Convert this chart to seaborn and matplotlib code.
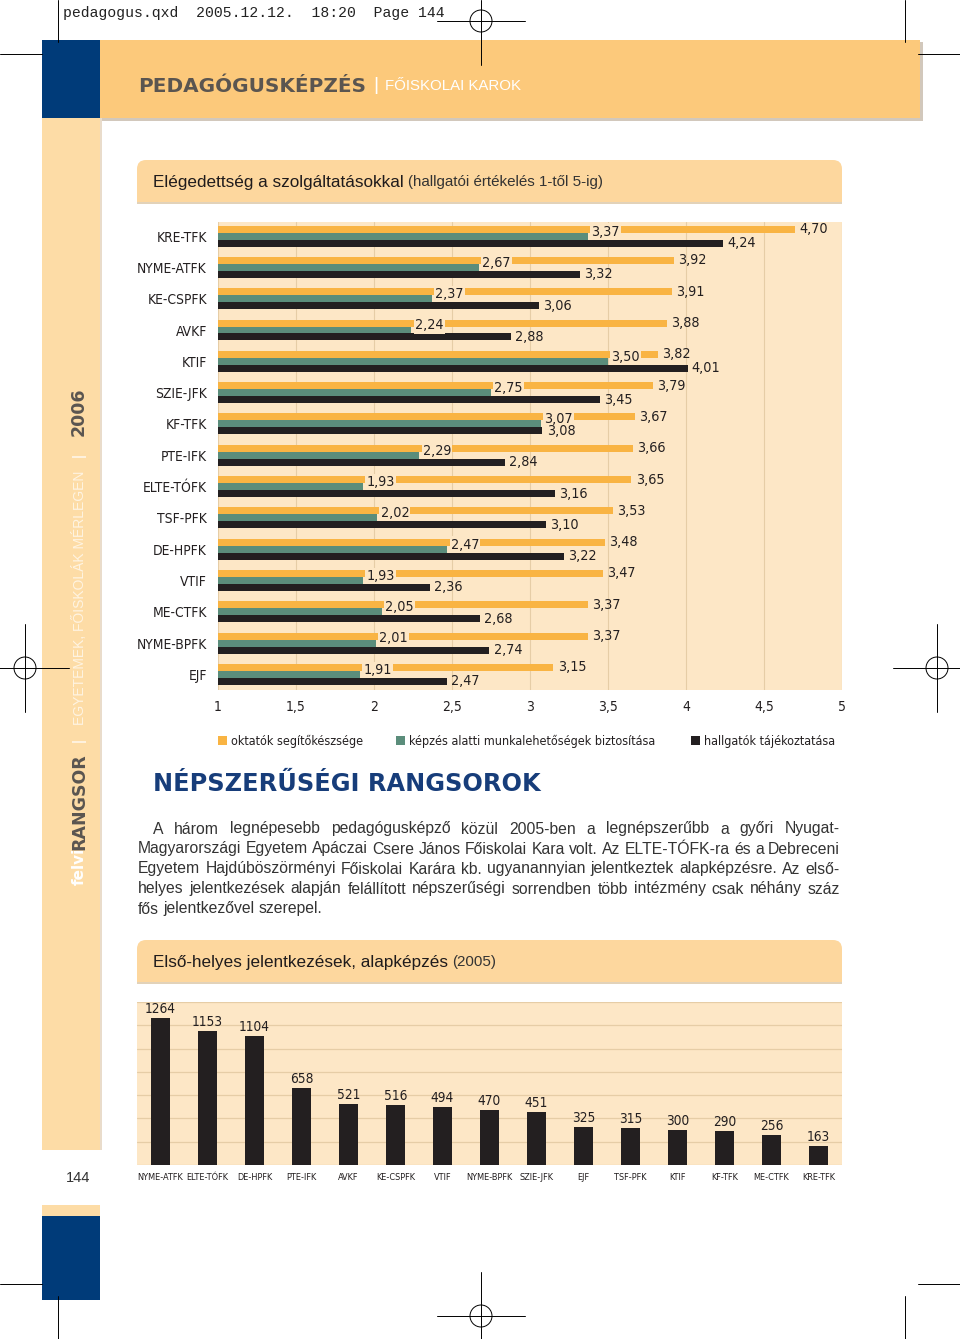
import os
import numpy as np
import pandas as pd
import matplotlib
matplotlib.use('Agg')
import matplotlib.pyplot as plt
import seaborn as sns
from matplotlib import font_manager as fm
from matplotlib.patches import Rectangle, FancyBboxPatch, Circle

# adatok - elegedettseg (1-5)
karok = ['KRE-TFK', 'NYME-ATFK', 'KE-CSPFK', 'AVKF', 'KTIF', 'SZIE-JFK', 'KF-TFK',
         'PTE-IFK', 'ELTE-TÓFK', 'TSF-PFK', 'DE-HPFK', 'VTIF', 'ME-CTFK',
         'NYME-BPFK', 'EJF']
oktatok = [4.70, 3.92, 3.91, 3.88, 3.82, 3.79, 3.67, 3.66, 3.65, 3.53, 3.48, 3.47,
           3.37, 3.37, 3.15]
munka = [3.37, 2.67, 2.37, 2.24, 3.50, 2.75, 3.07, 2.29, 1.93, 2.02, 2.47, 1.93,
         2.05, 2.01, 1.91]
tajek = [4.24, 3.32, 3.06, 2.88, 4.01, 3.45, 3.08, 2.84, 3.16, 3.10, 3.22, 2.36,
         2.68, 2.74, 2.47]
szempontok = ['oktatók segítőkészsége', 'képzés alatti munkalehetőségek biztosítása',
              'hallgatók tájékoztatása']
xtick_vals = [1, 1.5, 2, 2.5, 3, 3.5, 4, 4.5, 5]
xtick_labels = ['1', '1,5', '2', '2,5', '3', '3,5', '4', '4,5', '5']

# adatok - elso helyes jelentkezesek 2005
karok2 = ['NYME-ATFK', 'ELTE-TÓFK', 'DE-HPFK', 'PTE-IFK', 'AVKF', 'KE-CSPFK', 'VTIF',
          'NYME-BPFK', 'SZIE-JFK', 'EJF', 'TSF-PFK', 'KTIF', 'KF-TFK', 'ME-CTFK',
          'KRE-TFK']
jelentkezok = [1264, 1153, 1104, 658, 521, 516, 494, 470, 451, 325, 315, 300, 290, 256, 163]

szoveg = [
    'A három legnépesebb pedagógusképző közül 2005-ben a legnépszerűbb a győri Nyugat-',
    'Magyarországi Egyetem Apáczai Csere János Főiskolai Kara volt. Az ELTE-TÓFK-ra és a Debreceni',
    'Egyetem Hajdúböszörményi Főiskolai Karára kb. ugyanannyian jelentkeztek alapképzésre. Az első-',
    'helyes jelentkezések alapján felállított népszerűségi sorrendben több intézmény csak néhány száz',
    'fős jelentkezővel szerepel.',
]

# szinek
ORANGE = '#f9b443'
TEAL = '#5b8d7b'
BLACK = '#231f20'
CHART_BG = '#fde7c6'
BOX = '#fdd79e'
BAND = '#fcc97b'
SIDE = '#fddca6'
BLUE = '#003b79'
GRID = '#e6cda6'
GRAYTXT = '#5a5550'

sns.set_style('white')
plt.rcParams['font.family'] = ['Liberation Sans', 'DejaVu Sans']


# keskeny betu keresese
def narrow_font():
    prefs = ['LiberationSansNarrow-Regular', 'DejaVuSansCondensed.ttf',
             'RobotoCondensed-Regular', 'Roboto_Condensed-Regular',
             'OpenSans_Condensed-Regular', 'NotoSans-Condensed.ttf']
    files = [f.fname for f in fm.fontManager.ttflist]
    for p in prefs:
        for f in files:
            if p in os.path.basename(f):
                return f
    for f in fm.fontManager.ttflist:
        b = os.path.basename(f.fname)
        if ('Condensed' in b or 'Narrow' in b) and 'Bold' not in b and 'Oblique' not in b \
                and 'Italic' not in b and 'Light' not in b and 'Black' not in b:
            return f.fname
    return None


NF = narrow_font()


def nprop(size):
    if NF:
        return fm.FontProperties(fname=NF, size=size)
    return fm.FontProperties(family='Liberation Sans', size=size * 0.95)


W, H = 960, 1339
fig = plt.figure(figsize=(W / 100, H / 100), dpi=100)
fig.patch.set_facecolor('white')

# lap hattere, pixel koordinatakban
bg = fig.add_axes([0, 0, 1, 1])
bg.set_xlim(0, W)
bg.set_ylim(H, 0)
bg.axis('off')


def rect(x0, y0, x1, y1, color, z=1):
    bg.add_patch(Rectangle((x0, y0), x1 - x0, y1 - y0, color=color, lw=0, zorder=z))


def line(xs, ys):
    bg.plot(xs, ys, color='black', lw=0.7, zorder=5)


# vagojelek
line([58, 58], [0, 42]); line([905, 905], [0, 42])
line([0, 42], [54, 54]); line([918, 960], [54, 54])
line([58, 58], [1296, 1339]); line([905, 905], [1296, 1339])
line([0, 42], [1284, 1284]); line([918, 960], [1284, 1284])
for cx, cy in [(481, 21), (25, 668), (937, 668), (481, 1316)]:
    bg.add_patch(Circle((cx, cy), 11, fill=False, lw=0.7, color='black', zorder=5))
    line([cx - 44, cx + 44], [cy, cy])
    line([cx, cx], [max(cy - 44, 0), min(cy + 44, H)])

bg.text(63, 13, 'pedagogus.qxd  2005.12.12.  18:20  Page 144', family='Liberation Mono',
        fontsize=10.6, va='center', ha='left', color='#222222')

# fejlec sav
rect(102, 42, 923, 121, '#d2c8bc', 1)
rect(100, 40, 920, 118, BAND, 2)
rect(42, 40, 100, 118, BLUE, 3)
rect(42, 118, 100, 1150, SIDE, 2)
rect(100, 118, 102, 1150, '#e9dccb', 1)
rect(42, 1205, 100, 1216, SIDE, 2)
rect(42, 1216, 100, 1300, BLUE, 2)
bg.text(78, 1178, '144', fontsize=10.5, ha='center', va='center', color='#333333')

bg.text(138, 86, 'PEDAGÓGUSKÉPZÉS', family='DejaVu Sans', weight='bold',
        fontsize=14.4, color=GRAYTXT, ha='left', va='center', zorder=4)
bg.text(376, 86, '|', fontsize=14, color='white', ha='center', va='center', zorder=4)
bg.text(385, 86, 'FŐISKOLAI KAROK', fontsize=10.8, color='white', ha='left', va='center',
        zorder=4)

# oldalso felirat
side_parts = [(885, 'felvi', 'white', 'DejaVu Sans', 'bold', 11),
              (850, 'RANGSOR', GRAYTXT, 'DejaVu Sans', 'bold', 12.5),
              (742, '|', 'white', 'Liberation Sans', 'normal', 11),
              (725, 'EGYETEMEK, FŐISKOLÁK MÉRLEGEN', '#fff4e2', 'Liberation Sans', 'normal', 10),
              (457, '|', 'white', 'Liberation Sans', 'normal', 11),
              (436, '2006', GRAYTXT, 'DejaVu Sans', 'bold', 12.5)]
for y0, txt, col, fam, wt, fs in side_parts:
    bg.text(79, y0, txt, rotation=90, rotation_mode='anchor', ha='left', va='center',
            color=col, family=fam, weight=wt, fontsize=fs, zorder=4)


def title_box(y0, y1, bold_part, light_part):
    bg.add_patch(Rectangle((137, y1 - 2), 705, 4, color='#e2d2b9', lw=0, zorder=1))
    bg.add_patch(FancyBboxPatch((137, y0), 705, y1 - y0,
                                boxstyle='round,pad=0,rounding_size=9',
                                color=BOX, lw=0, zorder=2))
    rect(137, (y0 + y1) / 2, 842, y1, BOX, 2)
    tb = bg.text(153, (y0 + y1) / 2 + 1, bold_part, fontsize=12.3, color='#1f1b1c',
                 ha='left', va='center', zorder=3)
    r = fig.canvas.get_renderer()
    w = tb.get_window_extent(r).width
    bg.text(153 + w + 4, (y0 + y1) / 2 + 1, light_part, fontsize=10.9, color='#333333',
            ha='left', va='center', zorder=3)


title_box(160, 202, 'Elégedettség a szolgáltatásokkal', '(hallgatói értékelés 1-től 5-ig)')
title_box(940, 982, 'Első-helyes jelentkezések, alapképzés', '(2005)')

# 1. diagram
df1 = pd.DataFrame({
    'kar': karok * 3,
    'szempont': [szempontok[0]] * len(karok) + [szempontok[1]] * len(karok)
                + [szempontok[2]] * len(karok),
    'ertek': oktatok + munka + tajek,
})
ax1 = fig.add_axes([218 / W, 1 - 690 / H, 624 / W, 468 / H])
ax1.set_facecolor(CHART_BG)
sns.barplot(data=df1, y='kar', x='ertek', hue='szempont', hue_order=szempontok,
            palette=[ORANGE, TEAL, BLACK], orient='h', width=0.67, saturation=1,
            linewidth=0, legend=False, ax=ax1, zorder=2)
ax1.set_xlim(1, 5)
ax1.set_ylim(14.5, -0.45)
ax1.set_xticks(xtick_vals)
ax1.set_xticklabels(xtick_labels)
ax1.grid(axis='x', color=GRID, lw=0.8, zorder=0)
ax1.grid(axis='y', visible=False)
ax1.set_axisbelow(True)
for s in ax1.spines.values():
    s.set_visible(False)
ax1.tick_params(axis='x', length=0, pad=7, labelcolor=BLACK)
ax1.tick_params(axis='y', length=0, pad=8, labelcolor=BLACK)
for lab in ax1.get_yticklabels():
    lab.set_fontproperties(nprop(9.9))
for lab in ax1.get_xticklabels():
    lab.set_fontproperties(nprop(10))
ax1.set_xlabel('')
ax1.set_ylabel('')

for ci, cont in enumerate(ax1.containers):
    for bar in cont:
        v = bar.get_width()
        yc = bar.get_y() + bar.get_height() / 2
        txt = f'{v:.2f}'.replace('.', ',')
        kw = dict(textcoords='offset points', ha='left', va='center',
                  fontproperties=nprop(10.3), color=BLACK, zorder=5)
        if ci == 1:
            ax1.annotate(txt, (v, yc), xytext=(2.5, 3.3),
                         bbox=dict(boxstyle='square,pad=0.08', fc=CHART_BG, ec='none'), **kw)
        else:
            ax1.annotate(txt, (v, yc), xytext=(3, 0), **kw)

# jelmagyarazat
leg = [(218, szempontok[0], ORANGE), (396, szempontok[1], TEAL), (691, szempontok[2], BLACK)]
for x0, txt, col in leg:
    rect(x0, 736, x0 + 9, 745, col, 3)
    bg.text(x0 + 13, 741, txt, fontproperties=nprop(9), color=BLACK,
            ha='left', va='center', zorder=3)

bg.text(153, 784, 'NÉPSZERŰSÉGI RANGSOROK', family='DejaVu Sans', weight='heavy',
        fontsize=17.3, color='#173d7a', ha='left', va='center', zorder=3)

# sorkizart bekezdes
r = fig.canvas.get_renderer()
for i, sor in enumerate(szoveg):
    yy = 829 + 20 * i
    start = 153 if i == 0 else 138
    words = sor.split()
    items = [bg.text(0, yy, w, fontsize=11.3, color='#333333', ha='left', va='center',
                     zorder=3) for w in words]
    widths = [it.get_window_extent(r).width for it in items]
    if i == len(szoveg) - 1:
        gap = 4.2
    else:
        gap = (840 - start - sum(widths)) / (len(words) - 1)
    x = start
    for it, w in zip(items, widths):
        it.set_x(x)
        x += w + gap

# 2. diagram
df2 = pd.DataFrame({'kar': karok2, 'db': jelentkezok})
ax2 = fig.add_axes([137 / W, 1 - 1165 / H, 705 / W, 163 / H])
ax2.set_facecolor(CHART_BG)
sns.barplot(data=df2, x='kar', y='db', color=BLACK, width=0.4, saturation=1,
            linewidth=0, ax=ax2, zorder=2)
ax2.set_xlim(-0.5, 14.5)
ax2.set_ylim(0, 1400)
ax2.set_yticks(range(0, 1401, 200))
ax2.set_yticklabels([])
ax2.grid(axis='y', color=GRID, lw=0.9, zorder=0)
ax2.grid(axis='x', visible=False)
ax2.set_axisbelow(True)
for s in ax2.spines.values():
    s.set_visible(False)
ax2.tick_params(axis='both', length=0)
ax2.tick_params(axis='x', pad=6, labelcolor=BLACK)
for lab in ax2.get_xticklabels():
    lab.set_fontproperties(nprop(6.6))
ax2.set_xlabel('')
ax2.set_ylabel('')
for bar in ax2.containers[0]:
    v = bar.get_height()
    ax2.annotate(f'{v:.0f}', (bar.get_x() + bar.get_width() / 2, v), xytext=(0, 1.5),
                 textcoords='offset points', ha='center', va='bottom',
                 fontproperties=nprop(9.8), color=BLACK)

fig.savefig('out.png', dpi=100, facecolor='white')
